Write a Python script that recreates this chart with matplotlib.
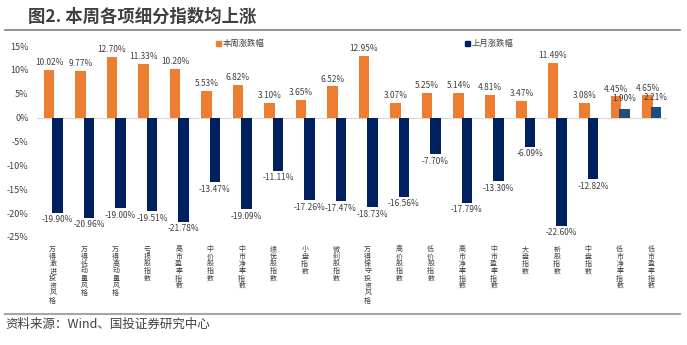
import matplotlib
matplotlib.use("Agg")
import matplotlib.pyplot as plt
import numpy as np

plt.rcParams['font.family'] = ['Noto Sans CJK SC', 'DejaVu Sans']

categories = ["万得激进投资风格", "万得低动量风格", "万得高动量风格", "亏损股指数", "高市盈率指数",
              "中价股指数", "中市净率指数", "绩优股指数", "小盘指数", "微利股指数",
              "万得保守投资风格", "高价股指数", "低价股指数", "高市净率指数", "中市盈率指数",
              "大盘指数", "新股指数", "中盘指数", "低市净率指数", "低市盈率指数"]
this_week = [10.02, 9.77, 12.70, 11.33, 10.20, 5.53, 6.82, 3.10, 3.65, 6.52,
             12.95, 3.07, 5.25, 5.14, 4.81, 3.47, 11.49, 3.08, 4.45, 4.65]
last_month = [-19.90, -20.96, -19.00, -19.51, -21.78, -13.47, -19.09, -11.11, -17.26, -17.47,
              -18.73, -16.56, -7.70, -17.79, -13.30, -6.09, -22.60, -12.82, 1.90, 2.21]
yticks = [15, 10, 5, 0, -5, -10, -15, -20, -25]
series_names = ["本周涨跌幅", "上月涨跌幅"]
title = "图2. 本周各项细分指数均上涨"
source = "资料来源：Wind、国投证券研究中心"

ORANGE = "#ED7D31"
NAVY = "#002060"
STEEL = "#1F4E79"
TXT = "#404040"

fig = plt.figure(figsize=(6.87, 3.45), dpi=100)
ax = fig.add_axes([37/687, 1-237/345, 630/687, (237-46)/345])

x = np.arange(len(categories))
w = 0.34
ob = ax.bar(x - 0.12, this_week, w, color=ORANGE, zorder=2)
bcolors = [NAVY if v < 0 else STEEL for v in last_month]
bb = ax.bar(x + 0.15, last_month, w, color=bcolors, zorder=3)

ax.set_xlim(-0.5, len(categories) - 0.5)
ax.set_ylim(-25, 15)
ax.axhline(0, color="#D9D9D9", lw=0.8, zorder=1)
for s in ax.spines.values():
    s.set_visible(False)
ax.set_xticks([])
ax.set_yticks(yticks)
ax.set_yticklabels([f"{v}%" for v in yticks], fontsize=6.5, color=TXT)
ax.tick_params(axis='y', length=0, pad=6)

for xi, v in zip(x, this_week):
    ax.annotate(f"{v:.2f}%", (xi - 0.12, v), xytext=(0, 2), textcoords="offset points",
                ha="center", va="bottom", fontsize=6, color=TXT, zorder=5)
for xi, v in zip(x, last_month):
    if v < 0:
        ax.annotate(f"{v:.2f}%", (xi + 0.15, v), xytext=(0, -2), textcoords="offset points",
                    ha="center", va="top", fontsize=6, color=TXT, zorder=5)
    else:
        ax.annotate(f"{v:.2f}%", (xi + 0.15, v), xytext=(0, 4), textcoords="offset points",
                    ha="center", va="bottom", fontsize=6, color=TXT, zorder=5)

# vertical category labels, one character per row
step_pt = 7.3 * 72 / 100
for xi, c in zip(x, categories):
    for k, ch in enumerate(c):
        ax.annotate(ch, (xi, -25), xytext=(0, -9 - k * step_pt), textcoords="offset points",
                    ha="center", va="center", fontsize=5.0, color=TXT, annotation_clip=False)

# legend
fig.patches.append(plt.Rectangle((216/687, 1-46/345), 5/687, 5/345, color=ORANGE,
                                 transform=fig.transFigure, figure=fig))
fig.text(223/687, 1-43.5/345, series_names[0], fontsize=6, color=TXT, va="center")
fig.patches.append(plt.Rectangle((465/687, 1-46/345), 5/687, 5/345, color=NAVY,
                                 transform=fig.transFigure, figure=fig))
fig.text(472/687, 1-43.5/345, series_names[1], fontsize=6, color=TXT, va="center")

# title and source
fig.text(28/687, 1-17/345, title, fontsize=12.5, fontweight="bold", color=TXT, va="center")
fig.add_artist(plt.Line2D([5/687, 680/687], [1-30/345, 1-30/345], color="#7F7F7F", lw=1.2))
fig.add_artist(plt.Line2D([5/687, 680/687], [1-314/345, 1-314/345], color="#A6A6A6", lw=1.5))
fig.text(5/687, 1-324/345, source, fontsize=9, color=TXT, va="center", style="italic")

fig.savefig("out.png", dpi=100)
